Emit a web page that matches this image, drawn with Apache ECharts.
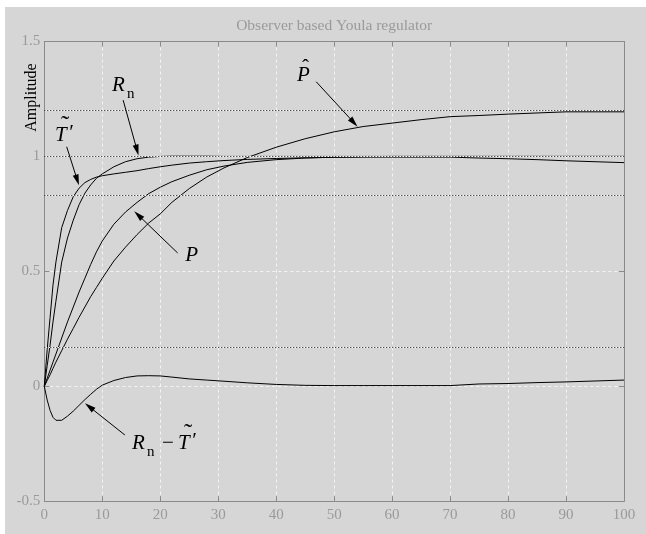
<!DOCTYPE html>
<html><head><meta charset="utf-8">
<script src="https://cdn.jsdelivr.net/npm/echarts@6/dist/echarts.min.js"></script>
<style>
html,body{margin:0;padding:0;background:#ffffff;width:646px;height:534px;overflow:hidden}
#c{position:absolute;left:5px;top:7px;width:641px;height:527px}
</style>
</head><body><div id="c"></div>
<script>
// ---------------- data ----------------
const timePoints = [0,0.5,1,1.5,2,3,4,5,6,7,8,9,10,12,14,16,18,20,22,25,28,31,35,40,45,50,55,60,65,70,75,80,85,90,95,100];
const tTildeValues = [0,0.16,0.30,0.44,0.54,0.69,0.765,0.825,0.862,0.886,0.9,0.91,0.916,0.924,0.931,0.938,0.947,0.955,0.962,0.971,0.977,0.982,0.987,0.991,0.994,0.996,0.997,0.997,0.997,0.997,0.993,0.99,0.986,0.981,0.977,0.973];
const rnValues = [0,0.09,0.18,0.28,0.37,0.54,0.645,0.723,0.79,0.84,0.876,0.905,0.924,0.955,0.977,0.99,0.997,1.0,1.001,1.001,1.001,1.0,1.0,1.0,1.0,1.0,1.0,1.0,1.0,1.0,1.0,1.0,1.0,1.0,1.0,1.0];
const diffValues = [0,-0.06,-0.105,-0.135,-0.148,-0.148,-0.13,-0.108,-0.083,-0.058,-0.035,-0.013,0.005,0.025,0.038,0.045,0.046,0.045,0.04,0.032,0.027,0.022,0.015,0.008,0.004,0.003,0.003,0.003,0.003,0.003,0.01,0.012,0.016,0.019,0.023,0.027];
const pValues = [0,0.035,0.07,0.105,0.14,0.21,0.28,0.345,0.41,0.47,0.53,0.585,0.632,0.705,0.758,0.80,0.838,0.866,0.89,0.918,0.942,0.958,0.974,0.986,0.993,0.997,0.999,1.0,1.0,1.0,1.0,1.0,1.0,1.0,1.0,1.0];
const pHatValues = [0,0.025,0.05,0.078,0.105,0.155,0.205,0.252,0.30,0.345,0.39,0.43,0.47,0.545,0.605,0.66,0.71,0.75,0.80,0.86,0.91,0.95,0.995,1.04,1.077,1.107,1.13,1.145,1.16,1.173,1.178,1.184,1.189,1.194,1.194,1.194];
const refLevels = [1.2, 1.0, 0.833, 0.167];
const xRange = [0, 100, 10];
const yRange = [-0.5, 1.5, 0.5];
const titleText = 'Observer based Youla regulator';
const yName = 'Amplitude';
// arrows: [tailX, tailY, tipX, tipY] in data units
const arrowRn = [13.6, 1.245, 16.0, 1.027];
const arrowT = [3.86, 1.042, 5.69, 0.897];
const arrowPHat = [46.9, 1.325, 53.4, 1.147];
const arrowP = [23.0, 0.58, 16.2, 0.745];
const arrowDiff = [13.9, -0.212, 7.76, -0.089];
// label anchors (data units)
const anchorRn = [11.68, 1.307];
const anchorT = [1.85, 1.091];
const anchorPHat = [43.6, 1.354];
const anchorP = [24.3, 0.571];
const anchorDiff = [15.14, -0.249];

// ---------------- chart ----------------
const chart = echarts.init(document.getElementById('c'), null, {renderer: 'canvas'});
const SERIF = '"Liberation Serif","Times New Roman",serif';
const frameColor = '#8a8a8a';
const labelColor = '#9a9a9a';
const pairs = v => timePoints.map((t, i) => [t, v[i]]);

function axisBase(isX, pos, showLabel, showSplit) {
  const r = isX ? xRange : yRange;
  return {
    type: 'value', position: pos, min: r[0], max: r[1], interval: r[2],
    axisLine: {show: true, onZero: false, lineStyle: {color: frameColor, width: 1}},
    axisTick: {show: true, inside: true, length: 5, lineStyle: {color: frameColor}},
    axisLabel: {show: showLabel, color: labelColor, fontFamily: SERIF, fontSize: 15, margin: isX ? 6 : 4},
    splitLine: {show: showSplit, lineStyle: {color: '#f4f4f4', width: 1, type: [3, 3]}}
  };
}
const lineSeries = (name, vals) => ({
  name, type: 'line', data: pairs(vals), showSymbol: false, symbol: 'none',
  lineStyle: {color: '#000', width: 1}, z: 3, silent: true
});
const arrowItem = a => [
  {coord: [a[0], a[1]], symbol: 'none'},
  {coord: [a[2], a[3]], symbol: 'triangle', symbolSize: [6, 11]}
];
const refItemsWhite = refLevels.map(v => ({yAxis: v, lineStyle: {color: '#ffffff', type: 'solid', width: 1}}));
const refItemsBlack = refLevels.map(v => ({yAxis: v, lineStyle: {color: '#000000', type: [1, 2], width: 1}}));

chart.setOption({
  backgroundColor: '#d6d6d6',
  animation: false,
  grid: {left: 39.3, top: 34.5, width: 579.7, height: 459.7, show: false},
  xAxis: [axisBase(true, 'bottom', true, true), axisBase(true, 'top', false, false)],
  yAxis: [axisBase(false, 'left', true, true), axisBase(false, 'right', false, false)],
  series: [
    {type: 'line', name: 'refs', data: [], z: 2, silent: true,
     markLine: {silent: true, symbol: ['none', 'none'], label: {show: false}, animation: false,
                data: refItemsWhite.concat(refItemsBlack)}},
    lineSeries('T', tTildeValues),
    lineSeries('Rn', rnValues),
    lineSeries('P', pValues),
    lineSeries('PHat', pHatValues),
    lineSeries('Rn-T', diffValues),
    {type: 'line', name: 'arrows', data: [], z: 4, silent: true,
     markLine: {silent: true, label: {show: false}, animation: false,
                lineStyle: {color: '#000', type: 'solid', width: 1},
                itemStyle: {color: '#000'},
                data: [arrowItem(arrowRn), arrowItem(arrowT), arrowItem(arrowPHat), arrowItem(arrowP), arrowItem(arrowDiff)]}}
  ]
});

// ---------------- text annotations ----------------
const IT = 'italic 21px ' + SERIF;
const UP = '21px ' + SERIF;
const TIL = '25px ' + SERIF;
const SUB = '15px ' + SERIF;
function pieces(anchor, list) {
  const p = chart.convertToPixel({gridIndex: 0}, anchor);
  return list.map(q => ({
    type: 'text', x: p[0] + q[1], y: p[1] + q[2], silent: true, z: 10,
    style: {text: q[0], font: q[3], fill: '#000', align: 'left', verticalAlign: 'middle'}
  }));
}
const gx = 39.3, gy = 34.5, gw = 579.7;
const graphics = [
  {type: 'text', x: gx + gw / 2, y: 19, silent: true,
   style: {text: titleText, font: '15.5px ' + SERIF, fill: '#9a9a9a', align: 'center', verticalAlign: 'middle'}},
  {type: 'text', x: 27, y: 90.5, rotation: Math.PI / 2, silent: true,
   style: {text: yName, font: '16px ' + SERIF, fill: '#000', align: 'center', verticalAlign: 'middle'}}
]
.concat(pieces(anchorRn, [['R', 0, 0, IT], ['n', 15, 8, SUB]]))
.concat(pieces(anchorT, [['T', 0, 0, IT], ['\u02DC', 6, -9, TIL], ['\u2032', 13, -2, IT]]))
.concat(pieces(anchorPHat, [['P', 0, 0, IT], ['\u02C6', 5, -7, UP]]))
.concat(pieces(anchorP, [['P', 0, 0, IT]]))
.concat(pieces(anchorDiff, [['R', 0, 0, IT], ['n', 15, 9, SUB], ['\u2212', 30, 0, UP], ['T', 46, 0, IT], ['\u02DC', 52, -9, TIL], ['\u2032', 59, -2, IT]]));
chart.setOption({graphic: graphics});
</script>
</body></html>
